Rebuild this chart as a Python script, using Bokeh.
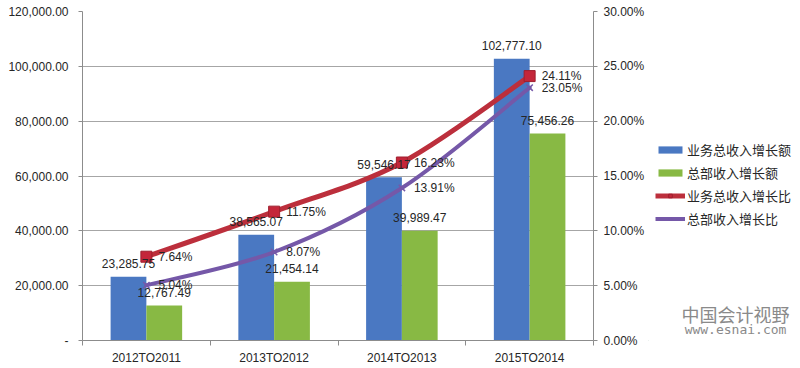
from bokeh.plotting import figure
from bokeh.layouts import row
from bokeh.models import (Range1d, LinearAxis, FixedTicker, NumeralTickFormatter,
                          ColumnDataSource, Legend, LegendItem, Label)
from bokeh.core.properties import value
from bokeh.embed import file_html
from bokeh.resources import INLINE

# ---- data ----
categories = ["2012TO2011", "2013TO2012", "2014TO2013", "2015TO2014"]
biz_inc = [23285.75, 38565.07, 59546.17, 102777.10]   # 业务总收入增长额
hq_inc = [12767.49, 21454.14, 39989.47, 75456.26]     # 总部收入增长额
biz_pct = [7.64, 11.75, 16.23, 24.11]                  # 业务总收入增长比 (%)
hq_pct = [5.04, 8.07, 13.91, 23.05]                    # 总部收入增长比 (%)
left_ticks = [0, 20000, 40000, 60000, 80000, 100000, 120000]
right_ticks = [0, 0.05, 0.10, 0.15, 0.20, 0.25, 0.30]
series_names = ["业务总收入增长额", "总部收入增长额", "业务总收入增长比", "总部收入增长比"]

BLUE = "#4a78c2"
GREEN = "#88b944"
RED = "#bc2f3c"
PURPLE = "#7558a8"
MK_RED = "#c4263a"
MK_RED_EDGE = "#9e1f2e"
TXT = "#262626"
FONT = "Liberation Sans"

n = len(categories)
centers = [i + 0.5 for i in range(n)]
BAR_W = 0.28
OFF = 0.14

p = figure(width=648, height=368, x_range=Range1d(0, n), y_range=Range1d(0, 120000),
           output_backend="svg", toolbar_location=None,
           min_border_left=82, min_border_right=55, min_border_top=11, min_border_bottom=28)
p.extra_y_ranges = {"pct": Range1d(0, 0.30)}
p.outline_line_color = None

# axes
p.xaxis.ticker = FixedTicker(ticks=centers, minor_ticks=list(range(n + 1)))
p.xaxis.major_label_overrides = {c: categories[i] for i, c in enumerate(centers)}
p.xaxis.major_tick_line_color = None
p.xaxis.major_tick_out = 0
p.xaxis.minor_tick_out = 5
p.xaxis.minor_tick_in = 0
p.xaxis.minor_tick_line_color = "#8c8c8c"
p.xaxis.axis_line_color = "#8c8c8c"
p.xaxis.major_label_standoff = 5

p.yaxis.ticker = FixedTicker(ticks=left_ticks, minor_ticks=[])
p.yaxis.formatter = NumeralTickFormatter(format="0,0.00")
p.yaxis.major_label_overrides = {0: "-"}
p.yaxis.major_tick_out = 4
p.yaxis.major_tick_in = 0
p.yaxis.major_tick_line_color = "#8c8c8c"
p.yaxis.axis_line_color = "#8c8c8c"
p.yaxis.major_label_standoff = 10

raxis = LinearAxis(y_range_name="pct", ticker=FixedTicker(ticks=right_ticks, minor_ticks=[]),
                   formatter=NumeralTickFormatter(format="0.00%"))
raxis.major_tick_out = 4
raxis.major_tick_in = 0
raxis.major_tick_line_color = "#8c8c8c"
raxis.axis_line_color = "#8c8c8c"
raxis.major_label_standoff = 6
p.add_layout(raxis, "right")

for ax in [p.xaxis[0], p.yaxis[0], raxis]:
    ax.major_label_text_font = FONT
    ax.major_label_text_font_size = "12px"
    ax.major_label_text_color = TXT

p.xgrid.grid_line_color = None
p.ygrid.grid_line_color = "#a6a6a6"
p.ygrid.ticker = FixedTicker(ticks=left_ticks)

# bars
src = ColumnDataSource(dict(
    xb=[c - OFF for c in centers], xg=[c + OFF for c in centers], xc=centers,
    biz=biz_inc, hq=hq_inc,
    bizp=[v / 100 for v in biz_pct], hqp=[v / 100 for v in hq_pct],
    biz_t=[f"{v:,.2f}" for v in biz_inc], hq_t=[f"{v:,.2f}" for v in hq_inc],
    bizp_t=[f"{v:.2f}%" for v in biz_pct], hqp_t=[f"{v:.2f}%" for v in hq_pct],
))
p.vbar(x="xb", top="biz", width=BAR_W, source=src, fill_color=BLUE, line_color=None)
p.vbar(x="xg", top="hq", width=BAR_W, source=src, fill_color=GREEN, line_color=None)


# smooth (Excel-like) curves through the data points
def smooth_segments(xs, ys):
    m = len(xs)
    seg = dict(x0=[], y0=[], x1=[], y1=[], cx0=[], cy0=[], cx1=[], cy1=[])
    for i in range(m - 1):
        xp, yp = (xs[i - 1], ys[i - 1]) if i > 0 else (xs[i], ys[i])
        xn2, yn2 = (xs[i + 2], ys[i + 2]) if i + 2 < m else (xs[i + 1], ys[i + 1])
        seg["x0"].append(xs[i]); seg["y0"].append(ys[i])
        seg["x1"].append(xs[i + 1]); seg["y1"].append(ys[i + 1])
        seg["cx0"].append(xs[i] + (xs[i + 1] - xp) / 6)
        seg["cy0"].append(ys[i] + (ys[i + 1] - yp) / 6)
        seg["cx1"].append(xs[i + 1] - (xn2 - xs[i]) / 6)
        seg["cy1"].append(ys[i + 1] - (yn2 - ys[i]) / 6)
    return ColumnDataSource(seg)


red_src = smooth_segments(centers, [v / 100 for v in biz_pct])
pur_src = smooth_segments(centers, [v / 100 for v in hq_pct])
bz = dict(x0="x0", y0="y0", x1="x1", y1="y1", cx0="cx0", cy0="cy0", cx1="cx1", cy1="cy1")
p.bezier(source=red_src, y_range_name="pct", line_color=RED, line_width=5, line_cap="round", **bz)
p.bezier(source=pur_src, y_range_name="pct", line_color=PURPLE, line_width=4, line_cap="round", **bz)
p.scatter(x="xc", y="bizp", source=src, y_range_name="pct", marker="square", size=11,
          fill_color=MK_RED, line_color=MK_RED_EDGE, line_width=1)
p.scatter(x="xc", y="hqp", source=src, y_range_name="pct", marker="x", size=9,
          line_color=PURPLE, line_width=1.5)

# data labels
common = dict(source=src, text_font=value(FONT), text_font_size="12px", text_color=TXT,
              text_baseline="middle")
p.text(x="xb", y="biz", text="biz_t", text_align="center", y_offset=-13, **common)
p.text(x="xg", y="hq", text="hq_t", text_align="center", y_offset=-13, **common)
p.text(x="xc", y="bizp", text="bizp_t", text_align="left", x_offset=12, y_range_name="pct", **common)
p.text(x="xc", y="hqp", text="hqp_t", text_align="left", x_offset=12, y_range_name="pct", **common)

# ---- legend panel (right side) ----
q = figure(width=152, height=368, x_range=Range1d(0, 1), y_range=Range1d(0, 1),
           output_backend="svg", toolbar_location=None,
           min_border_left=0, min_border_right=0, min_border_top=0, min_border_bottom=0)
q.axis.visible = False
q.grid.grid_line_color = None
q.outline_line_color = None
# legend swatches only: one point placed outside the visible range
swatch = ColumnDataSource(dict(x=[-10], y=[-10], top=[-10]))
g_blue = q.vbar(x="x", top="top", width=0.1, source=swatch, fill_color=BLUE, line_color=None)
g_green = q.vbar(x="x", top="top", width=0.1, source=swatch, fill_color=GREEN, line_color=None)
g_red_l = q.line(x="x", y="y", source=swatch, line_color=RED, line_width=5)
g_red_m = q.scatter(x="x", y="y", source=swatch, marker="square", size=11,
                    fill_color=MK_RED, line_color=MK_RED_EDGE)
g_pur_l = q.line(x="x", y="y", source=swatch, line_color=PURPLE, line_width=4)
g_pur_m = q.scatter(x="x", y="y", source=swatch, marker="x", size=9, line_color=PURPLE, line_width=1.5)

legend = Legend(items=[
    LegendItem(label=series_names[0], renderers=[g_blue]),
    LegendItem(label=series_names[1], renderers=[g_green]),
    LegendItem(label=series_names[2], renderers=[g_red_l, g_red_m]),
    LegendItem(label=series_names[3], renderers=[g_pur_l, g_pur_m]),
], location=(7, 112))
legend.label_text_font = "Noto Sans CJK SC"
legend.label_text_font_size = "13px"
legend.label_text_color = TXT
legend.glyph_width = 30
legend.glyph_height = 9
legend.label_height = 9
legend.label_standoff = 2
legend.spacing = 4
legend.padding = 0
legend.margin = 0
legend.border_line_color = None
legend.background_fill_alpha = 0
q.add_layout(legend, "center")

# watermark
q.add_layout(Label(x=87, y=27, x_units="screen", y_units="screen", text="中国会计视野",
                   text_font="Noto Sans CJK SC", text_font_size="18px", text_color="#8a8a8a",
                   text_align="center", text_baseline="middle"))
q.add_layout(Label(x=87, y=11, x_units="screen", y_units="screen", text="www.esnai.com",
                   text_font="DejaVu Sans Mono", text_font_size="13px", text_color="#8a8a8a",
                   text_align="center", text_baseline="middle"))

layout = row(p, q, spacing=0)
open("out.html", "w").write(file_html(layout, INLINE))
